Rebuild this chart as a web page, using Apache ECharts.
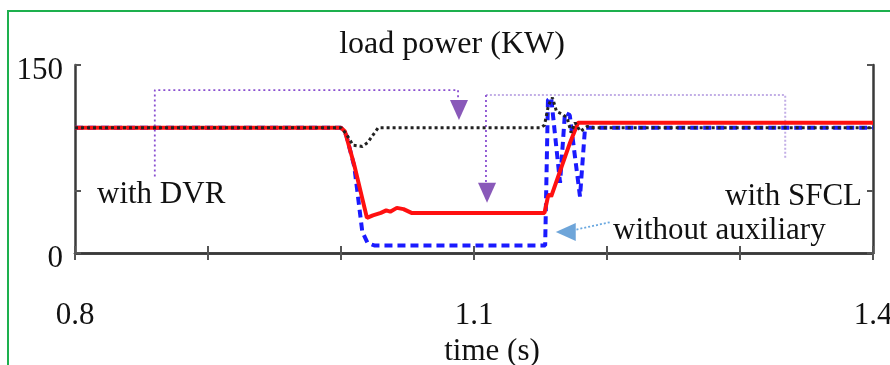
<!DOCTYPE html>
<html>
<head>
<meta charset="utf-8">
<script src="https://cdn.jsdelivr.net/npm/echarts@6/dist/echarts.min.js"></script>
<style>
  html, body { margin: 0; padding: 0; background: #fff; }
  #chart { width: 890px; height: 365px; }
</style>
</head>
<body>
<div id="chart"></div>
<script>
// load power (kW) vs time (s)
const tRed = [0.8, 1.0, 1.003, 1.010, 1.0195, 1.024, 1.030, 1.034, 1.037, 1.042, 1.047, 1.053, 1.153, 1.1556, 1.157, 1.158, 1.1722, 1.1782, 1.4];
const vRed = [100, 100, 97, 70, 28, 30, 32, 34, 33, 36, 35, 32, 32, 45, 47, 45, 88, 104, 104];

const tBlue = [0.8, 1.0, 1.004, 1.010, 1.016, 1.020, 1.025, 1.1535, 1.1556, 1.158, 1.1647, 1.1684, 1.172, 1.1797, 1.1835, 1.4];
const vBlue = [100, 100, 94, 69, 17, 8, 6, 6, 122, 124, 56, 112, 110, 45, 100, 100];

const tDvr = [0.8, 1.0, 1.004, 1.009, 1.016, 1.020, 1.024, 1.028, 1.150, 1.153, 1.156, 1.159, 1.162, 1.166, 1.170, 1.173, 1.176, 1.180, 1.185, 1.190, 1.4];
const vDvr = [100, 100, 95, 86, 85, 88, 94, 100, 100, 102, 118, 124, 113, 111, 108, 96, 104, 97, 101, 100, 100];

// annotation leaders (data coordinates)
const dvrLeadT = [0.860, 0.860, 1.088, 1.088];
const dvrLeadV = [61, 130, 130, 122];
const sfclLeadT = [1.334, 1.334, 1.109];
const sfclLeadV = [76, 126, 126];
const sfclDownT = [1.109, 1.109];
const sfclDownV = [126, 56];
const auxLeadT = [1.202, 1.176];
const auxLeadV = [24.5, 18.5];

const xLabels = ['0.8', '1.1', '1.4'];
const yLabels = ['0', '150'];

const FONT = '"Liberation Serif", "DejaVu Serif", serif';

function pares(ts, vs) {
  return ts.map((t, i) => [t, vs[i]]);
}

const chart = echarts.init(document.getElementById('chart'), null, { renderer: 'canvas' });

const eixX = {
  type: 'value', min: 0.8, max: 1.4, interval: 0.1,
  axisLine: { lineStyle: { color: '#3a3a3a', width: 2.5 } },
  axisTick: { inside: true, length: 7, lineStyle: { color: '#555', width: 2 } },
  splitLine: { show: false }
};
const eixY = {
  type: 'value', min: 0, max: 150, interval: 50,
  axisLine: { lineStyle: { color: '#3a3a3a', width: 2.5 } },
  axisTick: { inside: true, length: 6, lineStyle: { color: '#555', width: 2 } },
  splitLine: { show: false }
};

const option = {
  animation: false,
  backgroundColor: '#fff',
  grid: { left: 75, right: 17, top: 65, bottom: 112, outerBoundsMode: 'none', containLabel: false },
  xAxis: [
    Object.assign({}, eixX, {
      position: 'bottom',
      name: 'time (s)',
      nameLocation: 'middle',
      nameGap: 71,
      nameTextStyle: { fontFamily: FONT, fontSize: 31, color: '#111', padding: [0, 0, 0, 36] },
      axisLabel: {
        margin: 47,
        fontFamily: FONT, fontSize: 31, color: '#111',
        formatter: (v) => {
          const s = v.toFixed(1);
          return xLabels.includes(s) ? s : '';
        }
      }
    }),
    Object.assign({}, eixX, { position: 'top', axisLabel: { show: false } })
  ],
  yAxis: [
    Object.assign({}, eixY, {
      position: 'left',
      axisLabel: {
        margin: 12,
        formatter: (v) => (yLabels.includes(String(v)) ? '{n|' + v + '}' : ''),
        rich: {
          n: { fontFamily: FONT, fontSize: 31, color: '#111', padding: [12, 0, 0, 0] }
        }
      }
    }),
    Object.assign({}, eixY, { position: 'right', axisLabel: { show: false } })
  ],
  graphic: [
    { type: 'polyline', shape: { points: [[8, 365], [8, 11], [890, 11]] },
      style: { stroke: '#1db04e', lineWidth: 2, fill: null }, silent: true },
    { type: 'text', x: 452, y: 45,
      style: { text: 'load power (KW)', font: '32px ' + FONT, fill: '#111', align: 'center', verticalAlign: 'middle' } },
    { type: 'text', x: 97, y: 195,
      style: { text: 'with DVR', font: '31px ' + FONT, fill: '#111', align: 'left', verticalAlign: 'middle' } },
    { type: 'text', x: 862, y: 197,
      style: { text: 'with SFCL', font: '31px ' + FONT, fill: '#111', align: 'right', verticalAlign: 'middle' } },
    { type: 'text', x: 613, y: 231,
      style: { text: 'without auxiliary', font: '31px ' + FONT, fill: '#111', align: 'left', verticalAlign: 'middle' } }
  ],
  series: [
    {
      name: 'without auxiliary', type: 'line', data: pares(tBlue, vBlue),
      symbol: 'none', z: 3,
      lineStyle: { color: '#1a1aff', width: 4, type: [8, 5] }
    },
    {
      name: 'with SFCL', type: 'line', data: pares(tRed, vRed),
      symbol: 'none', z: 4,
      lineStyle: { color: '#ff1010', width: 4 }
    },
    {
      name: 'with DVR', type: 'line', data: pares(tDvr, vDvr),
      symbol: 'none', z: 5,
      lineStyle: { color: '#222', width: 3, type: [3, 3] }
    },
    {
      type: 'line', data: pares(dvrLeadT, dvrLeadV), symbol: 'none', z: 2, silent: true,
      lineStyle: { color: '#8a4fd0', width: 1.8, type: [2, 3] }
    },
    {
      type: 'line', data: pares(sfclLeadT, sfclLeadV), symbol: 'none', z: 2, silent: true,
      lineStyle: { color: '#c2aee6', width: 2, type: [2, 2] }
    },
    {
      type: 'line', data: pares(sfclDownT, sfclDownV), symbol: 'none', z: 2, silent: true,
      lineStyle: { color: '#8a4fd0', width: 1.8, type: [2, 3] }
    },
    {
      type: 'line', data: pares(auxLeadT, auxLeadV), symbol: 'none', z: 2, silent: true,
      lineStyle: { color: '#6aa8e0', width: 1.8, type: [2, 2] }
    },
    {
      type: 'scatter', silent: true, z: 6,
      data: [[1.0887, 114], [1.1098, 48]],
      symbol: 'triangle', symbolSize: [18, 20], symbolRotate: 180,
      itemStyle: { color: '#6b2fa8' }
    },
    {
      type: 'scatter', silent: true, z: 6,
      data: [[1.169, 16.8]],
      symbol: 'triangle', symbolSize: [18, 20], symbolRotate: 90,
      itemStyle: { color: '#4a8fd0' }
    }
  ]
};

chart.setOption(option);
</script>
</body>
</html>
